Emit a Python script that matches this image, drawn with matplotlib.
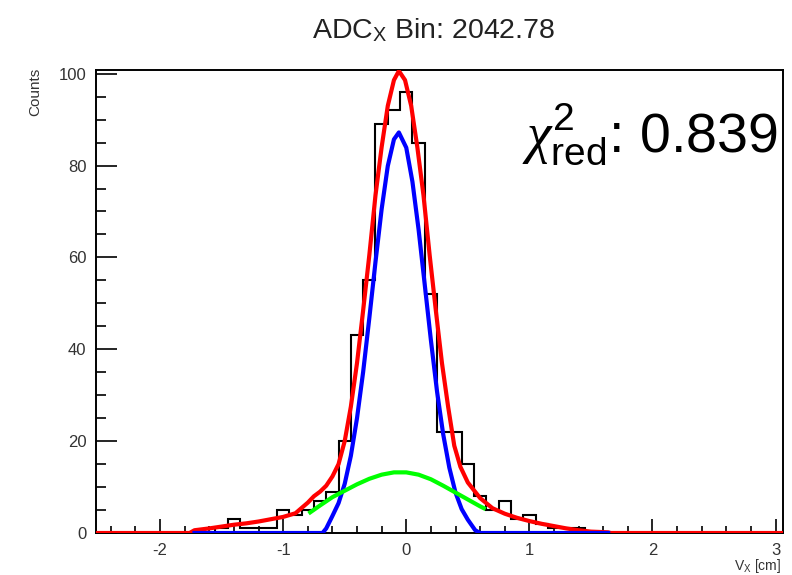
import numpy as np
import matplotlib
matplotlib.use('Agg')
import matplotlib.pyplot as plt
from matplotlib.ticker import MultipleLocator

plt.rcParams['font.family'] = ['Liberation Sans', 'DejaVu Sans']
plt.rcParams['mathtext.fontset'] = 'custom'
plt.rcParams['mathtext.rm'] = 'Liberation Sans'
plt.rcParams['mathtext.it'] = 'Liberation Serif:italic'
plt.rcParams['mathtext.bf'] = 'Liberation Sans:bold'
plt.rcParams['axes.unicode_minus'] = False

# ---------------- data ----------------
title_text = r'ADC$_{\mathrm{X}}$ Bin: 2042.78'
xlabel_text = r'V$_{\mathrm{X}}$ [cm]'
ylabel_text = 'Counts'
chi2_text = r'$\chi^{\mathrm{2}}_{\mathrm{red}}$: 0.839'

bin_centers = [-1.7, -1.6, -1.5, -1.4, -1.3, -1.2, -1.1, -1.0, -0.9, -0.8,
               -0.7, -0.6, -0.5, -0.4, -0.3, -0.2, -0.1, 0.0, 0.1, 0.2,
               0.3, 0.4, 0.5, 0.6, 0.7, 0.8, 0.9, 1.0, 1.1, 1.2, 1.3, 1.4]
counts = [0, 0, 1, 3, 1, 1, 1, 5, 4, 5,
          7, 9, 20, 43, 55, 89, 92, 96, 85, 52,
          22, 22, 15, 8, 5, 7, 3, 4, 2, 1, 1, 1]

# total fit (red)
red_x = [-2.52, -1.76, -1.72, -1.60, -1.50, -1.40, -1.30, -1.20, -1.10, -1.00,
         -0.90, -0.80, -0.75, -0.70, -0.65, -0.60, -0.55, -0.50, -0.45, -0.40,
         -0.35, -0.30, -0.25, -0.20, -0.15, -0.10, -0.06, -0.01, 0.04, 0.09,
         0.14, 0.19, 0.24, 0.29, 0.34, 0.39, 0.44, 0.50, 0.60, 0.70,
         0.80, 0.90, 1.00, 1.10, 1.20, 1.30, 1.40, 1.50, 1.64, 1.66, 3.06]
red_y = [0, 0, 0.6, 1.0, 1.4, 1.8, 2.1, 2.5, 3.0, 3.5,
         4.3, 6.6, 8.0, 9.0, 10.3, 12.3, 15.0, 20.0, 27.5, 37.0,
         48.5, 60.5, 73.5, 84.0, 93.0, 98.6, 100.6, 98.6, 93.0, 84.0,
         73.5, 60.5, 48.5, 37.0, 27.5, 19.0, 14.4, 11.0, 7.6, 5.4,
         4.2, 3.3, 2.6, 2.0, 1.5, 1.0, 0.6, 0.3, 0.15, 0, 0]

# narrow component (blue)
blue_x = [-1.72, -0.68, -0.65, -0.60, -0.55, -0.50, -0.45, -0.40, -0.35, -0.30,
          -0.25, -0.20, -0.15, -0.10, -0.06, 0.00, 0.05, 0.10, 0.15, 0.20,
          0.25, 0.30, 0.35, 0.40, 0.45, 0.50, 0.56, 0.60, 1.64]
blue_y = [0, 0, 1.0, 3.7, 6.5, 10.7, 16.8, 25.0, 35.1, 46.8,
          59.0, 70.5, 79.9, 85.7, 87.2, 83.9, 76.5, 66.1, 54.1, 42.0,
          30.8, 21.5, 14.2, 8.8, 5.2, 2.9, 0.6, 0, 0]

# wide component (green)
green_x = [-0.78, -0.70, -0.60, -0.50, -0.40, -0.30, -0.20, -0.10, 0.00, 0.10,
           0.20, 0.30, 0.40, 0.50, 0.60, 0.63]
green_y = [4.5, 6.0, 7.8, 9.2, 10.6, 11.8, 12.7, 13.2, 13.2, 12.7,
           11.7, 10.3, 8.8, 7.3, 5.8, 5.4]

x_limits = (-2.52, 3.06)
y_limits = (0, 100.8)
bin_width = 0.1

# ---------------- figure ----------------
W, H = 792, 575
fig = plt.figure(figsize=(W / 100, H / 100), dpi=100)
L, R, T, B = 96, 783, 70, 533
ax = fig.add_axes([L / W, 1 - B / H, (R - L) / W, (B - T) / H])

centers = np.array(bin_centers)
edges = np.append(centers - bin_width / 2, centers[-1] + bin_width / 2)
ax.stairs(counts, edges, baseline=0, color='black', linewidth=1.5, zorder=2)

ax.plot(red_x, red_y, color='#ff0000', linewidth=3.0, zorder=3, solid_joinstyle='round')
ax.plot(blue_x, blue_y, color='#0000ff', linewidth=3.0, zorder=4, solid_joinstyle='round')
ax.plot(green_x, green_y, color='#00ff00', linewidth=3.0, zorder=5, solid_joinstyle='round')

ax.set_xlim(*x_limits)
ax.set_ylim(*y_limits)

ax.xaxis.set_major_locator(MultipleLocator(1))
ax.xaxis.set_minor_locator(MultipleLocator(0.2))
ax.yaxis.set_major_locator(MultipleLocator(20))
ax.yaxis.set_minor_locator(MultipleLocator(5))

ax.tick_params(which='both', direction='in', top=False, right=False,
               width=1.2, colors='black', labelcolor='#333333', labelsize=12)
ax.tick_params(axis='x', which='major', length=10, pad=7)
ax.tick_params(axis='x', which='minor', length=5)
ax.tick_params(axis='y', which='major', length=15, pad=7)
ax.tick_params(axis='y', which='minor', length=7.5)

for sp in ax.spines.values():
    sp.set_linewidth(1.4)
    sp.set_color('black')

fig.text(434 / W, 1 - 38 / H, title_text, ha='center', va='baseline',
         fontsize=20.5, color='#222222')
fig.text(35 / W, 1 - 68 / H, ylabel_text, rotation=90, ha='center', va='top',
         fontsize=11, color='#333333')
fig.text(781 / W, 1 - 570 / H, xlabel_text, ha='right', va='baseline',
         fontsize=10, color='#333333')
fig.text(522 / W, 1 - 152 / H, chi2_text, ha='left', va='baseline',
         fontsize=40, color='black')

fig.savefig('out.png', dpi=100)
